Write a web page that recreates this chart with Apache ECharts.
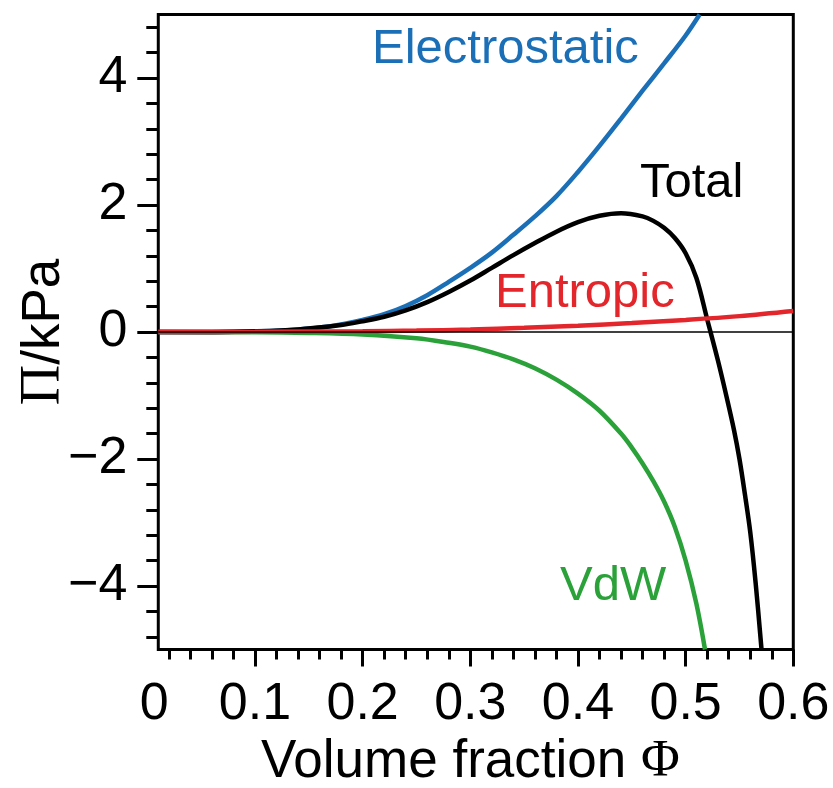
<!DOCTYPE html>
<html>
<head>
<meta charset="utf-8">
<script src="https://cdn.jsdelivr.net/npm/echarts@6/dist/echarts.min.js"></script>
<style>
  html, body { margin: 0; padding: 0; background: #fff; }
  #chart { width: 833px; height: 788px; }
</style>
</head>
<body>
<div id="chart"></div>
<script>
// values: volume fraction -> pressure (kPa)
var phiElec = [0.0102, 0.06, 0.10, 0.12, 0.14, 0.16, 0.18, 0.20, 0.22, 0.24, 0.26, 0.28, 0.30, 0.32, 0.34, 0.36, 0.38, 0.40, 0.42, 0.44, 0.46, 0.48, 0.50, 0.513];
var piElec = [0, 0, 0.01, 0.02, 0.04, 0.07, 0.12, 0.19, 0.28, 0.41, 0.58, 0.79, 1.01, 1.25, 1.53, 1.82, 2.14, 2.52, 2.93, 3.36, 3.8, 4.23, 4.67, 5.0];

var phiTotal = [0.0102, 0.06, 0.10, 0.14, 0.18, 0.20, 0.22, 0.24, 0.26, 0.28, 0.30, 0.32, 0.34, 0.36, 0.38, 0.40, 0.42, 0.44, 0.46, 0.47, 0.48, 0.49, 0.50, 0.51, 0.52, 0.53, 0.538, 0.545, 0.55, 0.555, 0.56, 0.565, 0.5705];
var piTotal = [0, 0, 0.01, 0.04, 0.11, 0.17, 0.24, 0.34, 0.47, 0.63, 0.81, 1.01, 1.21, 1.40, 1.58, 1.73, 1.83, 1.87, 1.82, 1.75, 1.64, 1.48, 1.24, 0.85, 0.2, -0.45, -1.02, -1.55, -2.0, -2.55, -3.15, -3.95, -5.0];

var phiVdw = [0.0102, 0.10, 0.15, 0.20, 0.25, 0.28, 0.30, 0.32, 0.34, 0.36, 0.38, 0.40, 0.42, 0.44, 0.45, 0.46, 0.47, 0.48, 0.49, 0.50, 0.51, 0.518];
var piVdw = [0, -0.005, -0.015, -0.04, -0.1, -0.17, -0.23, -0.32, -0.43, -0.57, -0.75, -0.97, -1.24, -1.6, -1.82, -2.07, -2.35, -2.67, -3.07, -3.6, -4.28, -5.0];

var phiEntr = [0.0102, 0.1, 0.2, 0.25, 0.3, 0.35, 0.4, 0.45, 0.5, 0.55, 0.6];
var piEntr = [0, 0.002, 0.012, 0.022, 0.038, 0.065, 0.1, 0.14, 0.19, 0.25, 0.33];

// axes
var xRange = [0.0102, 0.6];   // left frame edge sits a bit right of 0
var yRange = [-5, 5];
var xMajor = [0, 0.1, 0.2, 0.3, 0.4, 0.5, 0.6];
var xMinor = [0.02, 0.04, 0.06, 0.08, 0.12, 0.14, 0.16, 0.18, 0.22, 0.24, 0.26, 0.28, 0.32, 0.34, 0.36, 0.38, 0.42, 0.44, 0.46, 0.48, 0.52, 0.54, 0.56, 0.58];
var yMajor = [-4, -2, 0, 2, 4];
var yMinor = [-4.8, -4.4, -3.6, -3.2, -2.8, -2.4, -1.6, -1.2, -0.8, -0.4, 0.4, 0.8, 1.2, 1.6, 2.4, 2.8, 3.2, 3.6, 4.4, 4.8];

function zip(xs, ys) {
  return xs.map(function (x, i) { return [x, ys[i]]; });
}

var font = 'Liberation Sans';
var chart = echarts.init(document.getElementById('chart'));

function curve(name, xs, ys, color) {
  return {
    name: name,
    type: 'line',
    data: zip(xs, ys),
    showSymbol: false,
    symbol: 'none',
    smooth: 0.35,
    lineStyle: { color: color, width: 4.5 },
    animation: false,
    silent: true
  };
}

var tickStyle = { color: '#000', width: 3 };

var option = {
  backgroundColor: '#fff',
  animation: false,
  grid: { left: 147.3, right: 39.7, top: 14.5, bottom: 138.5, outerBoundsMode: 'none', containLabel: false },
  xAxis: [
    {
      type: 'value', min: 0, max: 0.6, position: 'bottom',
      axisLine: { show: false, onZero: false },
      splitLine: { show: false },
      axisTick: { show: true, customValues: xMajor.slice(1), length: 17, lineStyle: tickStyle },
      axisLabel: {
        show: true, customValues: xMajor, margin: 29,
        fontFamily: font, fontSize: 52, color: '#000',
        formatter: function (v) { return v === 0 ? '{z|0}' : v.toFixed(1); },
        rich: { z: { fontFamily: font, fontSize: 52, color: '#000', padding: [0, 0, 0, 14] } }
      },
      name: 'Volume fraction {phi|Φ}',
      nameLocation: 'middle',
      nameGap: 86,
      nameMoveOverlap: false,
      nameTextStyle: {
        fontFamily: font, fontSize: 53, color: '#000',
        rich: { phi: { fontFamily: 'Liberation Serif', fontSize: 53, color: '#000' } }
      }
    },
    {
      type: 'value', min: 0, max: 0.6, position: 'bottom',
      axisLine: { show: false, onZero: false },
      splitLine: { show: false },
      axisTick: { show: true, customValues: xMinor, length: 10, lineStyle: tickStyle },
      axisLabel: { show: false }
    }
  ],
  yAxis: [
    {
      type: 'value', min: yRange[0], max: yRange[1], offset: -11, position: 'left',
      axisLine: { show: false, onZero: false },
      splitLine: { show: false },
      axisTick: { show: true, customValues: yMajor, length: 21, lineStyle: tickStyle },
      axisLabel: {
        show: true, customValues: yMajor, margin: 31,
        fontFamily: font, fontSize: 52, color: '#000',
        formatter: function (v) { return v < 0 ? '\u2212' + (-v) : String(v); }
      },
      name: '{pi|Π}/kPa',
      nameLocation: 'middle',
      nameGap: 86,
      nameMoveOverlap: false,
      nameTextStyle: {
        fontFamily: font, fontSize: 53, color: '#000',
        rich: { pi: { fontFamily: 'Liberation Serif', fontSize: 56, color: '#000' } }
      }
    },
    {
      type: 'value', min: yRange[0], max: yRange[1], offset: -11, position: 'left',
      axisLine: { show: false, onZero: false },
      splitLine: { show: false },
      axisTick: { show: true, customValues: yMinor, length: 12, lineStyle: tickStyle },
      axisLabel: { show: false }
    }
  ],
  series: [
    curve('VdW', phiVdw, piVdw, '#2ba13a'),
    curve('Electrostatic', phiElec, piElec, '#1b6fb6'),
    curve('Total', phiTotal, piTotal, '#000000'),
    curve('Entropic', phiEntr, piEntr, '#e2262b'),
    {
      // zero line and plot frame
      type: 'line',
      data: [],
      clip: false,
      silent: true,
      animation: false,
      markLine: {
        silent: true, symbol: 'none', animation: false,
        label: { show: false },
        lineStyle: { color: '#000', width: 1.5, type: 'solid' },
        data: [[{ coord: [xRange[0], 0] }, { coord: [xRange[1], 0] }]]
      },
      markArea: {
        silent: true, animation: false,
        itemStyle: { color: 'rgba(0,0,0,0)', borderColor: '#000', borderWidth: 3 },
        data: [[{ coord: [xRange[0], yRange[0]] }, { coord: [xRange[1], yRange[1]] }]]
      }
    }
  ],
  graphic: [
    { type: 'text', left: 372, top: 25, silent: true, style: { text: 'Electrostatic', font: '49px "Liberation Sans"', fill: '#1b6fb6' } },
    { type: 'text', left: 640, top: 159, silent: true, style: { text: 'Total', font: '49px "Liberation Sans"', fill: '#000' } },
    { type: 'text', left: 495, top: 269, silent: true, style: { text: 'Entropic', font: '49px "Liberation Sans"', fill: '#e2262b' } },
    { type: 'text', left: 560, top: 562, silent: true, style: { text: 'VdW', font: '49px "Liberation Sans"', fill: '#2ba13a' } }
  ]
};

chart.setOption(option);
</script>
</body>
</html>
